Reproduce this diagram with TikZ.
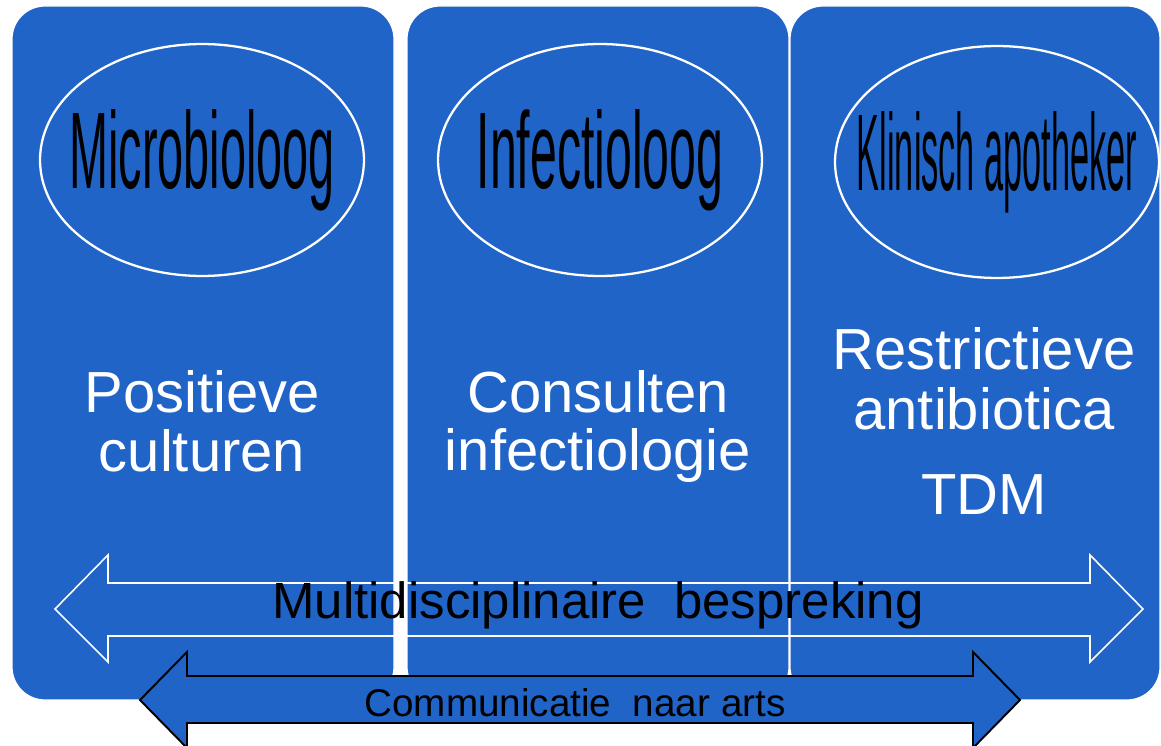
\documentclass[tikz,border=0pt]{standalone}
\usepackage{fontspec}
\setmainfont{Liberation Sans}
\usetikzlibrary{shapes.geometric}
\definecolor{vakblauw}{RGB}{32,100,200}
\newcommand{\rolnaam}[2]{\scalebox{#1}[1]{#2}}

\begin{document}
\begin{tikzpicture}[x=0.02cm,y=-0.02cm]
  \useasboundingbox (0,0) rectangle (1161,746);
  \tikzset{
    kolom/.style={fill=vakblauw,draw=white,line width=0.7pt,rounded corners=0.66cm},
    rol/.style={ellipse,draw=white,line width=1.3pt,minimum width=6.48cm,minimum height=4.64cm,inner sep=0pt},
    naam/.style={font=\fontsize{62}{62}\selectfont,text=black,inner sep=0pt},
    tekst/.style={font=\fontsize{33}{33}\selectfont,text=white,inner sep=0pt,anchor=base},
  }

  % drie kolommen
  \draw[kolom] (12,6) rectangle (394,700);
  \draw[kolom] (407,6) rectangle (789,700);
  \draw[kolom] (790,6) rectangle (1160,700);

  \node[rol] (micro) at (202,160) {}; %microbioloog
  \node[rol] (infect) at (600,160) {}; %infectioloog
  \node[rol] (klin) at (997,162) {}; %apotheker
  \node[naam] (micro-t) at (micro) {\rolnaam{0.43}{Microbioloog}};
  \node[naam] (infect-t) at (infect) {\rolnaam{0.443}{Infectioloog}};
  \node[naam] (klin-t) at (klin) {\rolnaam{0.315}{Klinisch apotheker}};

  \foreach \x/\y/\t/\n in {202/413/Positieve/pos, 202/472/culturen/cult,
      598/413/Consulten/cons, 598/471/infectiologie/inf,
      984/370/Restrictieve/restr, 984/430/antibiotica/ab, 984/515/TDM/tdm}
    \node[tekst] (\n) at (\x,\y) {\t};

  % pijlen
  \coordinate (A) at (55,609);   %punt links
  \coordinate (B) at (1143,609); %punt rechts
  \coordinate (C) at (140,700);  %punt links
  \coordinate (D) at (1020,700); %punt rechts
  \draw[white,line width=0.9pt] (A) -- (108,555) -- (108,583) -- (1090,583) -- (1090,555) -- (B)
      -- (1090,662) -- (1090,636) -- (108,636) -- (108,662) -- cycle;
  \draw[black,fill=vakblauw,line width=1.1pt] (C) -- (187,652) -- (187,676) -- (973,676) -- (973,652) -- (D)
      -- (973,748) -- (973,723) -- (187,723) -- (187,748) -- cycle;

  \node[font=\fontsize{29}{29}\selectfont,anchor=base,inner sep=0pt] (overleg) at (598,619) {Multidisciplinaire\ \ bespreking};
  \node[font=\fontsize{22}{22}\selectfont,anchor=base,inner sep=0pt] (arts) at (575,717) {Communicatie\ \ naar arts};
\end{tikzpicture}
\end{document}
